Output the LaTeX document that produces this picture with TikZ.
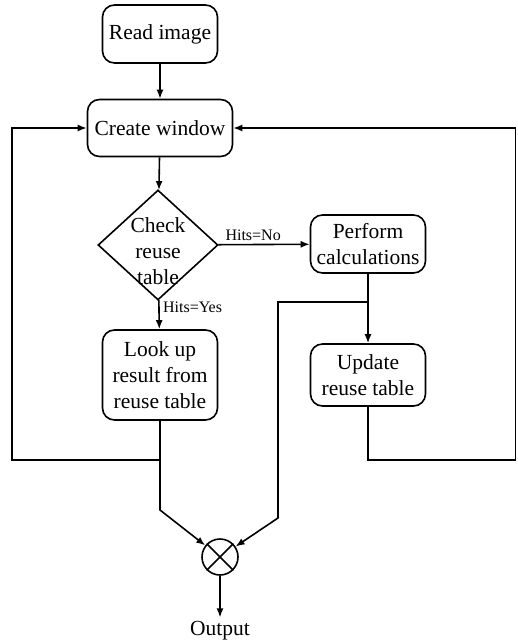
\documentclass[tikz,border=0pt]{standalone}
\usepackage{fontspec}
\setmainfont{Liberation Serif}
\usepackage{tikz}
\usetikzlibrary{arrows.meta}
\usetikzlibrary{positioning,shapes.geometric}

\begin{document}
\begin{tikzpicture}[x=1pt,y=-1pt,line width=1.6pt,>={Latex[length=9pt,width=7pt]},
  font=\fontsize{21.5}{26}\selectfont,
  block/.style={rectangle, draw, rounded corners=12pt, align=center, inner sep=0pt},
  decision/.style={diamond, draw, inner sep=0pt, minimum width=120pt, minimum height=110pt},
  tag/.style={font=\fontsize{16}{16}\selectfont}]
\useasboundingbox (0,0) rectangle (517,644);

\node (read) at (160,34) [block, minimum width=115pt, minimum height=58pt] {Read image};
\node (create) at (160,128) [block, minimum width=145pt, minimum height=57pt] {Create window};
\node (check) at (158,245) [decision] {};
\node (checktxt) at (158,251) [align=center] {Check\\reuse\\table};
\node (perform) at (368,244) [block, minimum width=115pt, minimum height=58pt] {Perform\\calculations};
\node (lookup) at (160,375) [block, minimum width=115pt, minimum height=90pt] {Look up\\result from\\reuse table};
\node (update) at (368,375) [block, minimum width=115pt, minimum height=62pt] {Update\\reuse table};
\node (mult) at (220,557) [circle, draw, minimum size=36pt, inner sep=0pt] {};
\node (out) at (220,631) {Output};

% junctions and bends
\coordinate (split) at (368,302);
\coordinate (bendR) at (278,518);
\coordinate (tap) at (160,460);
\coordinate (bendL) at (160,510);
\coordinate (loopL) at (12,460);
\coordinate (loopR) at (515.5,460);

\draw [->] (read) -- (create);
\draw [->] (create) -- (check);
\draw [->] (check) -- node [tag, above, pos=0.38] {Hits=No} (perform);
\draw [->] (check) -- node [tag, right, pos=0.25] {Hits=Yes} (lookup);
\draw [->] (perform) -- (update);
\draw [->] (split) -| (bendR) -- (mult);
\draw [->] (lookup) -- (bendL) -- (mult);
\draw [->] (tap) -- (loopL) |- (create);
\draw [->] (update) |- (loopR) |- (create);
\draw (mult.north west) -- (mult.south east);
\draw (mult.north east) -- (mult.south west);
\draw [->] (mult) -- (out);
\end{tikzpicture}
\end{document}
